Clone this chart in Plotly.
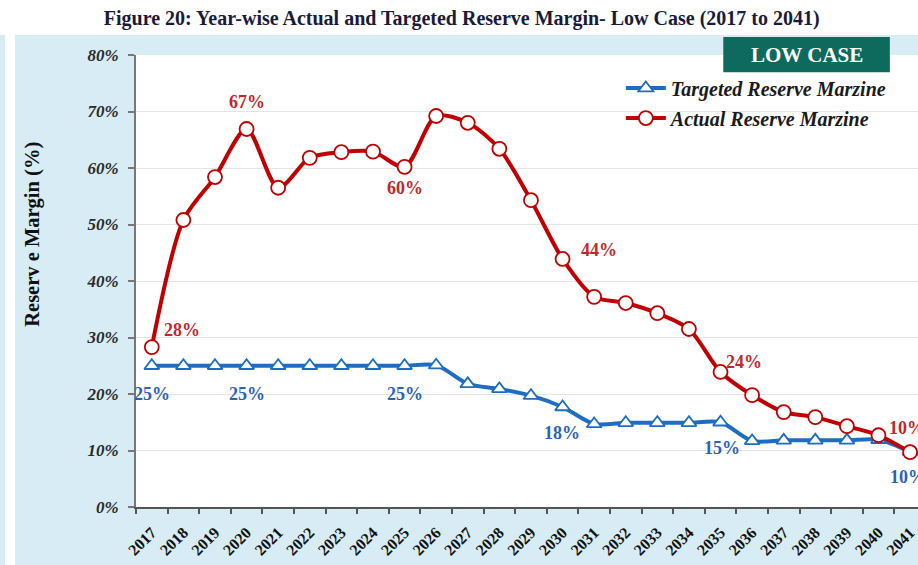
import plotly.graph_objects as go

years = [str(y) for y in range(2017, 2042)]
actual = [28.3, 50.8, 58.4, 66.9, 56.5, 61.8, 62.8, 62.9, 60.2, 69.2, 68.0, 63.4, 54.3, 43.9,
          37.2, 36.1, 34.3, 31.5, 23.9, 19.8, 16.8, 15.9, 14.3, 12.7, 9.7]
target = [25, 25, 25, 25, 25, 25, 25, 25, 25, 25.1, 21.8, 20.9, 19.7, 17.7,
          14.7, 14.9, 14.9, 14.9, 15.0, 11.7, 11.8, 11.8, 11.8, 11.9, 9.8]
y_ticks = [0, 10, 20, 30, 40, 50, 60, 70, 80]
y_tick_text = ["0%", "10%", "20%", "30%", "40%", "50%", "60%", "70%", "80%"]

# labelled points: (index, text, xshift, yshift)
actual_labels = [(0, "28%", 30, 17), (3, "67%", 0, 27), (8, "60%", 0, -21),
                 (13, "44%", 36, 9), (18, "24%", 23, 10), (24, "10%", -3, 24)]
target_labels = [(0, "25%", 0, -28), (3, "25%", 0, -28), (8, "25%", 0, -28),
                 (13, "18%", -1, -26), (18, "15%", 1, -26), (24, "10%", -2, -25)]

RED = "#c00000"
BLUE = "#1f6dc0"
SERIF = "Liberation Serif"

fig = go.Figure()
fig.add_trace(go.Scatter(
    x=years, y=target, name="Targeted Reserve Marzine", mode="lines+markers",
    line=dict(color=BLUE, width=4, shape="spline", smoothing=0.8),
    marker=dict(symbol="triangle-up", size=13, color="white", line=dict(color=BLUE, width=1.8)),
    cliponaxis=False, legendgroup="t",
))
fig.add_trace(go.Scatter(
    x=years, y=actual, name="Actual Reserve Marzine", mode="lines+markers",
    line=dict(color=RED, width=4, shape="spline", smoothing=0.8),
    marker=dict(symbol="circle", size=14, color="white", line=dict(color=RED, width=1.8)),
    cliponaxis=False, legendgroup="a",
))

annotations = []
for i, t, dx, dy in actual_labels:
    annotations.append(dict(x=i, y=actual[i], xref="x", yref="y", text=t, showarrow=False,
                            xanchor="center", yanchor="middle", xshift=dx, yshift=dy,
                            font=dict(family=SERIF, size=18, color="#c0282d", weight="bold")))
for i, t, dx, dy in target_labels:
    annotations.append(dict(x=i, y=target[i], xref="x", yref="y", text=t, showarrow=False,
                            xanchor="center", yanchor="middle", xshift=dx, yshift=dy,
                            font=dict(family=SERIF, size=18, color="#2c62b6", weight="bold")))

annotations.append(dict(xref="paper", yref="paper", x=-0.132, y=0.604, text="Reserv e Margin (%)",
                        textangle=-90, showarrow=False, xanchor="center", yanchor="middle",
                        font=dict(family=SERIF, size=20.5, color="#111", weight="bold")))
annotations.append(dict(xref="paper", yref="paper", x=0.858, y=1.001, text="LOW CASE",
                        xanchor="center", yanchor="middle",
                        showarrow=False, font=dict(family=SERIF, size=21, color="white", weight="bold")))

shapes = [
    dict(type="rect", xref="paper", yref="paper", x0=-0.2, x1=1.05, y0=1.044, y1=1.2,
         fillcolor="white", line=dict(width=0), layer="below"),
    dict(type="rect", xref="paper", yref="paper", x0=-0.1675, x1=-0.1547, y0=-0.2, y1=1.044,
         fillcolor="white", line=dict(width=0), layer="below"),
    dict(type="rect", xref="paper", yref="paper", x0=0.751, x1=0.964, y0=0.962, y1=1.04,
         fillcolor="#0e6a5c", line=dict(width=0)),
]

fig.update_layout(
    width=918, height=565,
    margin=dict(l=136, r=0, t=55, b=58),
    paper_bgcolor="#d8ecf6", plot_bgcolor="white",
    title=dict(text="Figure 20: Year-wise Actual and Targeted Reserve Margin- Low Case (2017 to 2041)",
               x=0.503, xref="container", xanchor="center", y=0.968, yanchor="middle",
               font=dict(family=SERIF, size=20, color="#1a1a3a", weight="bold")),
    showlegend=True,
    legend=dict(x=0.62, y=0.97, xanchor="left", yanchor="top", bgcolor="rgba(0,0,0,0)",
                font=dict(family=SERIF, size=20, color="#1a1a1a", style="italic", weight="bold"),
                itemwidth=40, tracegroupgap=1),
    annotations=annotations,
    shapes=shapes,
)
fig.update_xaxes(type="category", range=[-0.5, 24.25], showgrid=False,
                 showline=True, linecolor="#555", linewidth=2,
                 ticks="outside", tickson="boundaries", ticklen=5, tickcolor="#555", tickwidth=2,
                 tickangle=-45, ticklabelstandoff=8,
                 tickfont=dict(family=SERIF, size=16, color="#111", weight="bold"))
fig.update_yaxes(range=[0, 80], tickvals=y_ticks, ticktext=y_tick_text,
                 showgrid=True, gridcolor="#e4e4e4", gridwidth=1, zeroline=False,
                 showline=True, linecolor="#777", linewidth=2,
                 ticks="outside", ticklen=6, tickcolor="#777", tickwidth=1.5,
                 ticklabelstandoff=6,
                 tickfont=dict(family=SERIF, size=17, color="#2a2a2a", style="italic", weight="bold"))

fig.write_html("out.html", config={"displayModeBar": False},
               post_script="document.body.style.margin='0';")
